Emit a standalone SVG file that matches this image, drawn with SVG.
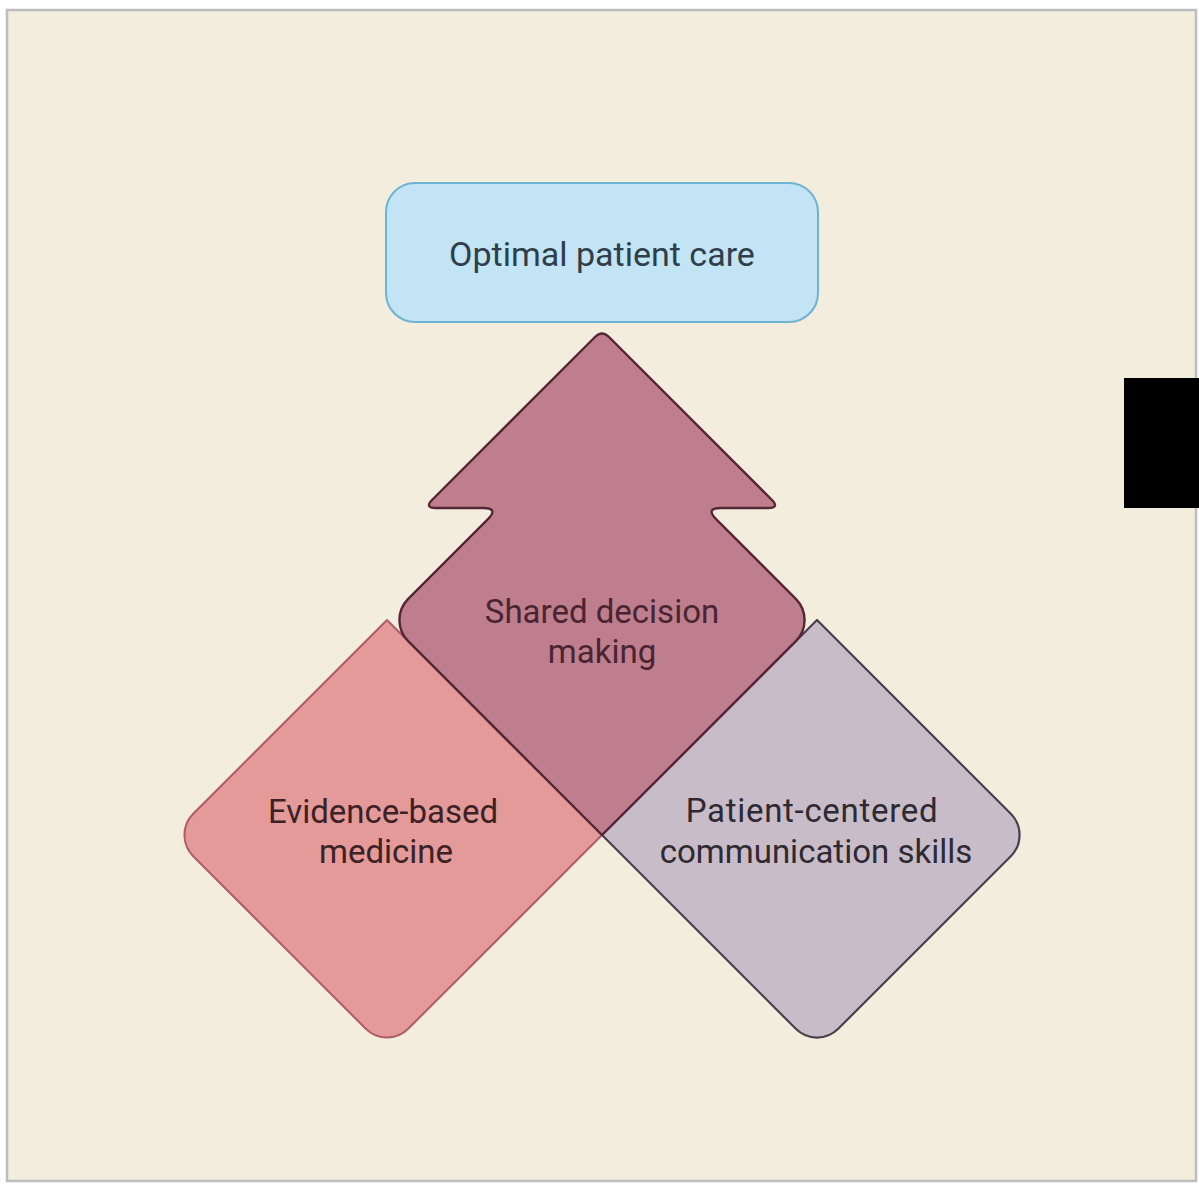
<svg xmlns="http://www.w3.org/2000/svg" width="1199" height="1184" viewBox="0 0 1199 1184">
  <style>
    .lbl { font-family: Roboto, "Liberation Sans", sans-serif; font-size: 33px; text-anchor: middle; }
    .care { fill: #2F3E49; font-size: 34px; }
    .sdm { fill: #4A2531; }
    .ebm { fill: #3C2226; }
    .pcc { fill: #2E2A31; }
    .wide { letter-spacing: 0.7px; }
  </style>
  <!-- page frame -->
  <rect x="0" y="0" width="1199" height="1184" fill="#FFFFFF"/>
  <rect x="7" y="10" width="1189" height="1171" fill="#F3EDDE" stroke="#BDBDBD" stroke-width="2.5"/>

  <!-- goal box -->
  <g id="optimal-care">
    <rect x="386" y="183" width="432" height="139" rx="29" ry="29" fill="#C2E4F5" stroke="#6DB3D3" stroke-width="2"/>
    <text class="lbl care" x="602" y="266">Optimal patient care</text>
  </g>

  <!-- lower-left diamond -->
  <g id="evidence-based">
    <path d="M387,620 L602,835 L408.2,1028.8 A30,30 0 0 1 365.8,1028.8 L193.2,856.2 A30,30 0 0 1 193.2,813.8 Z" fill="#E39A98" stroke="#B05C69" stroke-width="2" stroke-linejoin="round"/>
    <text class="lbl ebm" x="383" y="823">Evidence-based</text>
    <text class="lbl ebm" x="386" y="863">medicine</text>
  </g>

  <!-- lower-right diamond -->
  <g id="patient-centered">
    <path d="M817,620 L1010.8,813.8 A30,30 0 0 1 1010.8,856.2 L838.2,1028.8 A30,30 0 0 1 795.8,1028.8 L602,835 Z" fill="#C9BCC9" stroke="#4A404D" stroke-width="2.2" stroke-linejoin="round"/>
    <text class="lbl pcc wide" x="812" y="822">Patient-centered</text>
    <text class="lbl pcc" x="816" y="863">communication skills</text>
  </g>

  <!-- upward arrow on top of the two diamonds -->
  <g id="shared-decision">
    <path d="M595,337 Q602,330 609,337 L771.5,499.5 Q780,508 768,508 L721,508 Q705,508 716.3,519.3 L795.8,598.8 A30,30 0 0 1 795.8,641.2 L602,835 L408.2,641.2 A30,30 0 0 1 408.2,598.8 L487.7,519.3 Q499,508 483,508 L436,508 Q424,508 432.5,499.5 Z" fill="#BE7E8E" stroke="#552636" stroke-width="2.4" stroke-linejoin="round"/>
    <text class="lbl sdm" x="602" y="623">Shared decision</text>
    <text class="lbl sdm" x="602" y="663">making</text>
  </g>

  <!-- connectors: none drawn separately; the arrow shape carries the flow -->
  <g id="connectors"/>

  <!-- solid block at the right edge -->
  <rect x="1124" y="378" width="75" height="130" fill="#000000"/>
</svg>
